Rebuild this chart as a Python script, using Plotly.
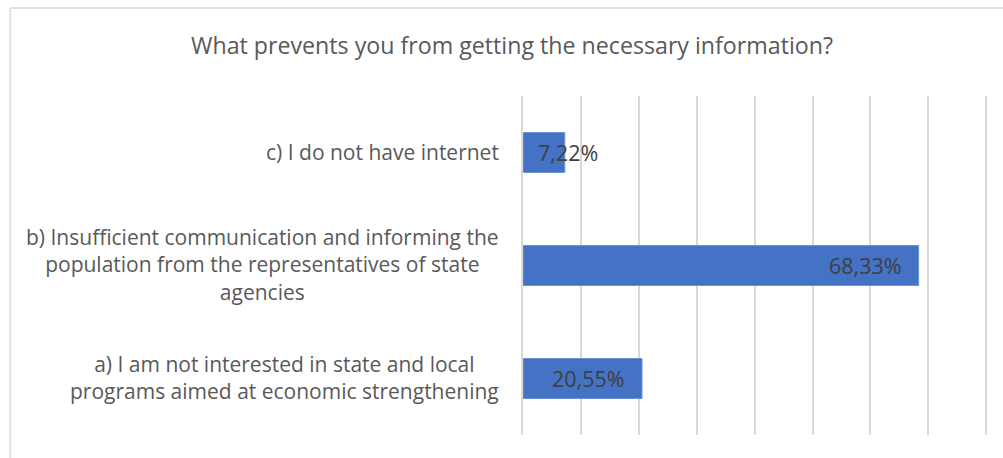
import plotly.graph_objects as go

categories = ["a", "b", "c"]
label_text = [
    "a) I am not interested in state and local<br>programs aimed at economic strengthening",
    "b) Insufficient communication and informing the<br>population from the representatives of state<br>agencies",
    "c) I do not have internet",
]
values = [20.55, 68.33, 7.22]
value_text = ["20,55%", "68,33%", "7,22%"]
title = "What prevents you from getting the necessary information?"

FONT = "Open Sans"
TXT = "#595959"
W, H = 1003, 458
XMAX = 81
ml, mt, mb = 523, 96, 23
pw = 463 * XMAX / 80
mr = W - ml - pw
ph = H - mt - mb

fig = go.Figure(go.Bar(
    y=categories, x=values, orientation="h", width=0.354,
    marker=dict(color="#4472c4", line=dict(color="#6d93d6", width=1)),
    hoverinfo="skip",
))

anns = []
for cat, t in zip(categories, label_text):
    anns.append(dict(x=0, xref="paper", y=cat, yref="y", text=t, showarrow=False,
                     xanchor="right", yanchor="middle", align="center", xshift=-22, yshift=1,
                     font=dict(family=FONT, size=21, color=TXT)))
for cat, v, t in zip(categories, values, value_text):
    if v > 15:
        anns.append(dict(x=v, y=cat, text=t, showarrow=False, xanchor="right", xshift=-15,
                         font=dict(family=FONT, size=21.5, color="#404040")))
    else:
        anns.append(dict(x=v, y=cat, text=t, showarrow=False, xanchor="center", xshift=3,
                         font=dict(family=FONT, size=21.5, color="#404040")))

anns.append(dict(x=(512 - ml) / pw, xref="paper", y=(H - mb - 45) / ph, yref="paper",
                 text=title, showarrow=False, xanchor="center", yanchor="middle",
                 font=dict(family=FONT, size=23.2, color=TXT)))

shapes = [
    dict(type="line", xref="paper", yref="paper", x0=(10.5 - ml) / pw, x1=(10.5 - ml) / pw,
         y0=(H - mb - 8) / ph, y1=(H - mb - 470) / ph, line=dict(color="#d9d9d9", width=1.5)),
    dict(type="line", xref="paper", yref="paper", x0=(10.5 - ml) / pw, x1=(W + 10 - ml) / pw,
         y0=(H - mb - 8) / ph, y1=(H - mb - 8) / ph, line=dict(color="#d9d9d9", width=1.5)),
]

fig.update_layout(
    width=W, height=H,
    margin=dict(l=ml, r=mr, t=mt, b=mb),
    paper_bgcolor="white", plot_bgcolor="white",
    showlegend=False,
    annotations=anns, shapes=shapes,
    xaxis=dict(range=[0, XMAX], dtick=10, showgrid=True, gridcolor="#d9d9d9", gridwidth=1.5,
               zeroline=False, showticklabels=False, ticks="", showline=False, fixedrange=True),
    yaxis=dict(categoryorder="array", categoryarray=categories, showticklabels=False,
               ticks="", showgrid=False, zeroline=False, showline=True, linecolor="#d9d9d9",
               linewidth=1.5, fixedrange=True),
)

fig.write_html("out.html", config={"displayModeBar": False},
               post_script="document.body.style.margin='0';document.body.style.overflow='hidden';")
